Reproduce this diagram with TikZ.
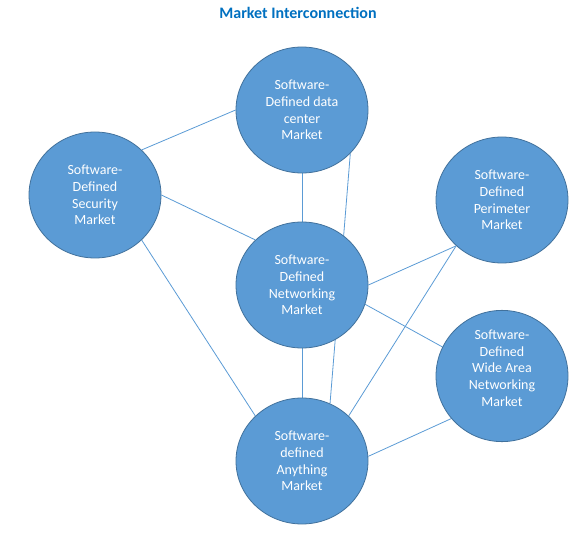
\documentclass[tikz,border=0pt]{standalone}
\usepackage{fontspec}
\setmainfont{Carlito}
\usetikzlibrary{shapes.geometric, backgrounds}

\definecolor{mktfill}{HTML}{5B9BD5}
\definecolor{mktdraw}{HTML}{41719C}
\definecolor{mkttitle}{HTML}{0070C0}

\begin{document}
\begin{tikzpicture}[
    x=1pt, y=-1pt,
    market/.style={
        ellipse,
        draw=mktdraw,
        line width=0.8pt,
        fill=mktfill,
        minimum width=132pt,
        minimum height=126pt,
        inner sep=0pt,
        align=center,
        text=white,
        font=\fontsize{14}{16.8}\selectfont
    },
    link/.style={
        draw=mktfill,
        line width=0.8pt
    },
    heading/.style={
        font=\fontsize{16}{19}\selectfont\bfseries,
        text=mkttitle
    }
]
\useasboundingbox (0,0) rectangle (588,534);

% Title
\node[heading] (title) at (298,13) {Market Interconnection};

% Markets
\node[market] (datacenter) at (302,110) {Software-\\Defined data\\center\\Market};
\node[market] (security) at (95,195) {Software-\\Defined\\Security\\Market};
\node[market] (perimeter) at (502,200) {Software-\\Defined\\Perimeter\\Market};
\node[market] (networking) at (302,285) {Software-\\Defined\\Networking\\Market};
\node[market, text depth=16pt] (widearea) at (502,376) {Software-\\Defined\\Wide Area\\Networking\\Market};
\node[market] (anything) at (302,461) {Software-\\defined\\Anything\\Market};

% Links between markets
\begin{scope}[on background layer]
\draw[link] (security.44) -- (datacenter.180);
\draw[link] (security.0) -- (networking.136);
\draw[link] (security.-44) -- (anything.136);
\draw[link] (datacenter.south) -- (networking.north);
\draw[link] (datacenter.-42) -- (anything.64);
\draw[link] (networking.south) -- (anything.north);
\draw[link] (networking.0) -- (perimeter.-135);
\draw[link] (networking.-17) -- (widearea.154);
\draw[link] (anything.44) -- (perimeter.-135);
\draw[link] (anything.4) -- (widearea.-140);
\end{scope}

\end{tikzpicture}
\end{document}
